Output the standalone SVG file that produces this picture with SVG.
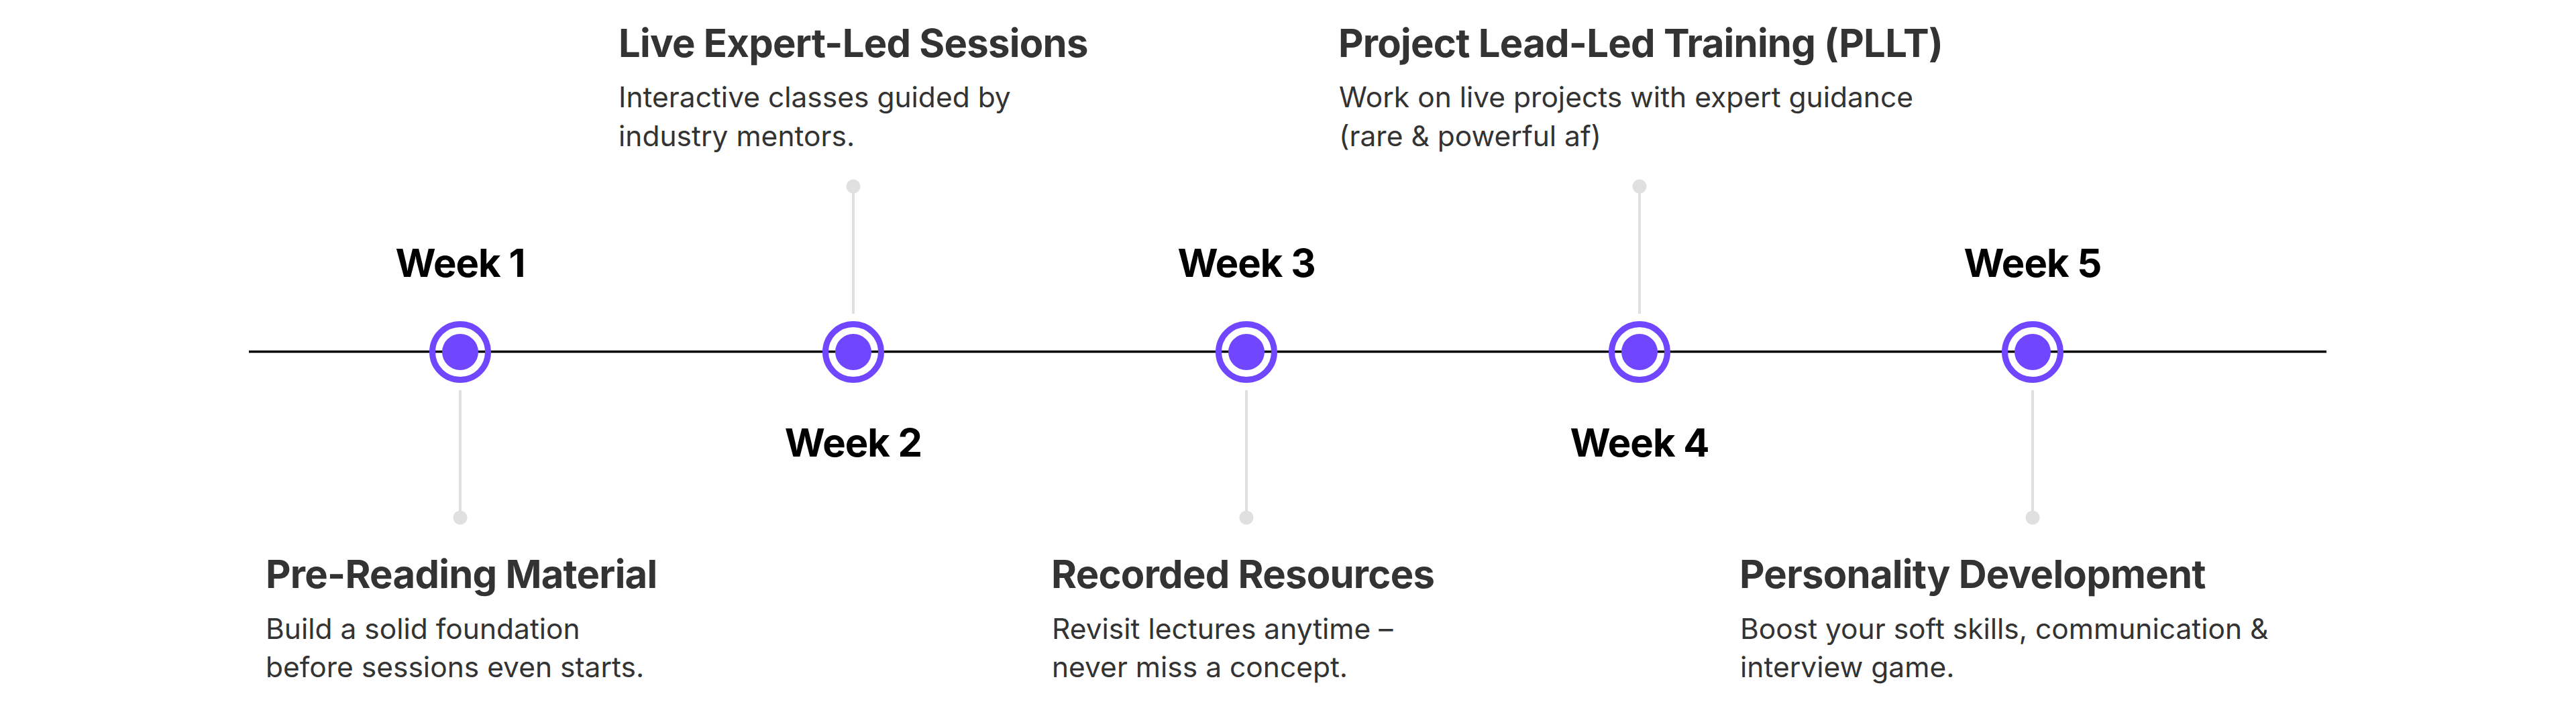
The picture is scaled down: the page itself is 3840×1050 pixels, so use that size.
<svg xmlns="http://www.w3.org/2000/svg" width="3840" height="1050" viewBox="0 0 3840 1050">
<style>
.week{font-family:Inter,"Noto Sans","Liberation Sans",sans-serif;font-weight:700;font-size:58px;letter-spacing:-1px;fill:#000;text-anchor:middle}
.title{font-family:Inter,"Noto Sans","Liberation Sans",sans-serif;font-weight:700;font-size:58px;letter-spacing:-0.75px;fill:#333}
.desc{font-family:Inter,"Noto Sans","Liberation Sans",sans-serif;font-weight:400;font-size:42.5px;fill:#333}
.ring{fill:none;stroke:#7047FF;stroke-width:9}
.core{fill:#7047FF}
.stem{stroke:#E0E0E0;stroke-width:4}
.pin{fill:#E0E0E0}
.axis{stroke:#000;stroke-width:3.5}
</style>
<rect width="3840" height="1050" fill="#fff"/>
<g id="connectors">
<line class="axis" x1="371" y1="524.5" x2="3468" y2="524.5"/>
<line class="stem" x1="686" y1="582" x2="686" y2="772"/>
<line class="stem" x1="1272" y1="278" x2="1272" y2="468"/>
<line class="stem" x1="1858" y1="582" x2="1858" y2="772"/>
<line class="stem" x1="2444" y1="278" x2="2444" y2="468"/>
<line class="stem" x1="3030" y1="582" x2="3030" y2="772"/>
</g>
<g id="week1">
<text class="week" x="686" y="412.5">Week 1</text>
<circle class="ring" cx="686" cy="525" r="41.5"/>
<circle class="core" cx="686" cy="525" r="27"/>
<circle class="pin" cx="686" cy="772" r="10.5"/>
<text class="title" x="396" y="876.5">Pre-Reading Material</text>
<text class="desc" x="396" y="952.5">Build a solid foundation</text>
<text class="desc" x="396" y="1010">before sessions even starts.</text>
</g>
<g id="week2">
<text class="week" x="1272" y="681">Week 2</text>
<circle class="ring" cx="1272" cy="525" r="41.5"/>
<circle class="core" cx="1272" cy="525" r="27"/>
<circle class="pin" cx="1272" cy="278" r="10.5"/>
<text class="title" x="922" y="85">Live Expert-Led Sessions</text>
<text class="desc" x="922" y="159.5">Interactive classes guided by</text>
<text class="desc" x="922" y="218">industry mentors.</text>
</g>
<g id="week3">
<text class="week" x="1858" y="412.5">Week 3</text>
<circle class="ring" cx="1858" cy="525" r="41.5"/>
<circle class="core" cx="1858" cy="525" r="27"/>
<circle class="pin" cx="1858" cy="772" r="10.5"/>
<text class="title" x="1567" y="876.5">Recorded Resources</text>
<text class="desc" x="1568" y="952.5">Revisit lectures anytime –</text>
<text class="desc" x="1568" y="1010">never miss a concept.</text>
</g>
<g id="week4">
<text class="week" x="2444" y="681">Week 4</text>
<circle class="ring" cx="2444" cy="525" r="41.5"/>
<circle class="core" cx="2444" cy="525" r="27"/>
<circle class="pin" cx="2444" cy="278" r="10.5"/>
<text class="title" x="1995" y="85">Project Lead-Led Training (PLLT)</text>
<text class="desc" x="1996" y="159.5">Work on live projects with expert guidance</text>
<text class="desc" x="1996" y="218">(rare &amp; powerful af)</text>
</g>
<g id="week5">
<text class="week" x="3030" y="412.5">Week 5</text>
<circle class="ring" cx="3030" cy="525" r="41.5"/>
<circle class="core" cx="3030" cy="525" r="27"/>
<circle class="pin" cx="3030" cy="772" r="10.5"/>
<text class="title" x="2593" y="876.5">Personality Development</text>
<text class="desc" x="2594" y="952.5">Boost your soft skills, communication &amp;</text>
<text class="desc" x="2594" y="1010">interview game.</text>
</g>
</svg>
